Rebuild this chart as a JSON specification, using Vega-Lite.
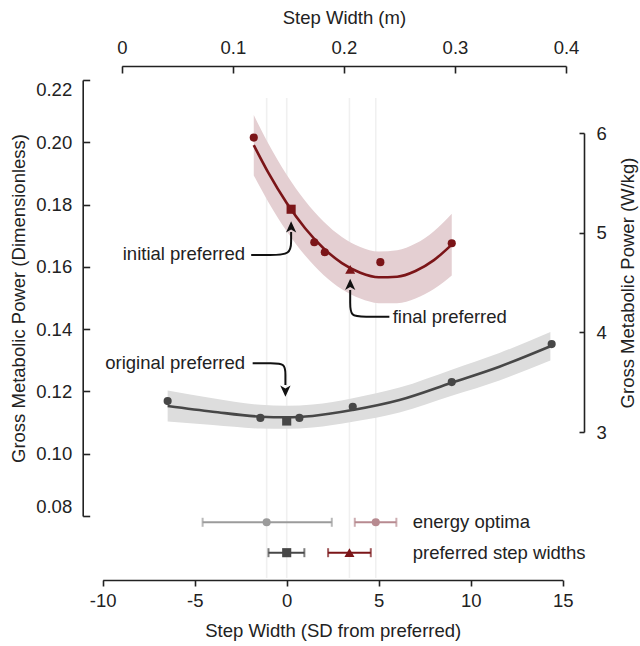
{
  "$schema": "https://vega.github.io/schema/vega-lite/v6.json",
  "width": 640,
  "height": 646,
  "autosize": "none",
  "padding": 0,
  "background": "white",
  "config": {
    "view": {"stroke": null},
    "font": "Liberation Sans",
    "axis": {
      "grid": false,
      "labelFont": "Liberation Sans",
      "titleFont": "Liberation Sans",
      "labelFontSize": 18.5,
      "titleFontSize": 18.5,
      "titleFontWeight": "normal",
      "labelColor": "#222222",
      "titleColor": "#222222",
      "domainColor": "#222222",
      "tickColor": "#222222",
      "domainWidth": 1.6,
      "tickWidth": 1.6,
      "labelOverlap": false
    }
  },
  "datasets": {
    "points": [
      {"sd": -1.79, "val": 0.2015, "cond": "red", "kind": "trial"},
      {"sd": 0.24, "val": 0.1785, "cond": "red", "kind": "initial"},
      {"sd": 1.5, "val": 0.1679, "cond": "red", "kind": "trial"},
      {"sd": 2.07, "val": 0.1647, "cond": "red", "kind": "trial"},
      {"sd": 3.45, "val": 0.1592, "cond": "red", "kind": "final"},
      {"sd": 5.09, "val": 0.1615, "cond": "red", "kind": "trial"},
      {"sd": 8.97, "val": 0.1676, "cond": "red", "kind": "trial"},
      {"sd": -6.47, "val": 0.1169, "cond": "dark", "kind": "trial"},
      {"sd": -1.43, "val": 0.1115, "cond": "dark", "kind": "trial"},
      {"sd": 0, "val": 0.1105, "cond": "dark", "kind": "initial"},
      {"sd": 0.69, "val": 0.1115, "cond": "dark", "kind": "trial"},
      {"sd": 3.59, "val": 0.1151, "cond": "dark", "kind": "trial"},
      {"sd": 8.97, "val": 0.1230, "cond": "dark", "kind": "trial"},
      {"sd": 14.4, "val": 0.1352, "cond": "dark", "kind": "trial"}
    ],
    "curves": [
      {"sd": -1.79, "val": 0.19906, "lo": 0.18936, "hi": 0.20876, "cond": "red"},
      {"sd": -1, "val": 0.19023, "lo": 0.18083, "hi": 0.19963, "cond": "red"},
      {"sd": 0, "val": 0.1805, "lo": 0.1714, "hi": 0.1896, "cond": "red"},
      {"sd": 1, "val": 0.17241, "lo": 0.16361, "hi": 0.18121, "cond": "red"},
      {"sd": 2, "val": 0.16599, "lo": 0.15739, "hi": 0.17459, "cond": "red"},
      {"sd": 3, "val": 0.16122, "lo": 0.15282, "hi": 0.16962, "cond": "red"},
      {"sd": 4, "val": 0.1581, "lo": 0.1498, "hi": 0.1664, "cond": "red"},
      {"sd": 5, "val": 0.15665, "lo": 0.14835, "hi": 0.16495, "cond": "red"},
      {"sd": 6, "val": 0.15684, "lo": 0.14834, "hi": 0.16534, "cond": "red"},
      {"sd": 7, "val": 0.15867, "lo": 0.14987, "hi": 0.16747, "cond": "red"},
      {"sd": 8, "val": 0.16217, "lo": 0.15287, "hi": 0.17147, "cond": "red"},
      {"sd": 8.97, "val": 0.16715, "lo": 0.15725, "hi": 0.17705, "cond": "red"},
      {"sd": -6.47, "val": 0.11532, "lo": 0.11032, "hi": 0.12032, "cond": "dark"},
      {"sd": -4.02, "val": 0.11349, "lo": 0.10919, "hi": 0.11779, "cond": "dark"},
      {"sd": -1.43, "val": 0.11189, "lo": 0.10809, "hi": 0.11569, "cond": "dark"},
      {"sd": 0, "val": 0.11169, "lo": 0.10799, "hi": 0.11539, "cond": "dark"},
      {"sd": 1.41, "val": 0.11211, "lo": 0.10841, "hi": 0.11581, "cond": "dark"},
      {"sd": 3.59, "val": 0.11404, "lo": 0.11024, "hi": 0.11784, "cond": "dark"},
      {"sd": 6.13, "val": 0.11725, "lo": 0.11325, "hi": 0.12125, "cond": "dark"},
      {"sd": 8.97, "val": 0.1228, "lo": 0.1186, "hi": 0.127, "cond": "dark"},
      {"sd": 11.56, "val": 0.12794, "lo": 0.12354, "hi": 0.13234, "cond": "dark"},
      {"sd": 14.33, "val": 0.1345, "lo": 0.1299, "hi": 0.1391, "cond": "dark"}
    ],
    "errbars": [
      {"sd": -1.09, "lo": -4.57, "hi": 2.45, "row": 0.07798, "cond": "eo_dark", "kind": "trial"},
      {"sd": 4.84, "lo": 3.7, "hi": 5.96, "row": 0.07798, "cond": "eo_red", "kind": "trial"},
      {"sd": 0, "lo": -0.99, "hi": 0.96, "row": 0.06822, "cond": "dark", "kind": "initial"},
      {"sd": 3.41, "lo": 2.25, "hi": 4.57, "row": 0.06822, "cond": "red", "kind": "final"}
    ],
    "arrows": [
      {"arrow": "initial", "i": 0, "sd": -1.93, "val": 0.16381},
      {"arrow": "initial", "i": 1, "sd": -0.95, "val": 0.16381},
      {"arrow": "initial", "i": 2, "sd": 0.24, "val": 0.16381},
      {"arrow": "initial", "i": 3, "sd": 0.24, "val": 0.1686},
      {"arrow": "initial", "i": 4, "sd": 0.24, "val": 0.17119},
      {"arrow": "final", "i": 0, "sd": 5.58, "val": 0.144},
      {"arrow": "final", "i": 1, "sd": 4.22, "val": 0.144},
      {"arrow": "final", "i": 2, "sd": 3.45, "val": 0.144},
      {"arrow": "final", "i": 3, "sd": 3.45, "val": 0.14871},
      {"arrow": "final", "i": 4, "sd": 3.45, "val": 0.15257},
      {"arrow": "original", "i": 0, "sd": -1.85, "val": 0.12903},
      {"arrow": "original", "i": 1, "sd": -0.83, "val": 0.12903},
      {"arrow": "original", "i": 2, "sd": -0.07, "val": 0.12903},
      {"arrow": "original", "i": 3, "sd": -0.07, "val": 0.12527},
      {"arrow": "original", "i": 4, "sd": -0.07, "val": 0.12206}
    ],
    "heads": [
      {"arrow": "initial", "dir": "up", "sd": 0.24, "val": 0.1728},
      {"arrow": "final", "dir": "up", "sd": 3.45, "val": 0.15433},
      {"arrow": "original", "dir": "down", "sd": -0.07, "val": 0.12014}
    ],
    "notesRight": [
      {"sd": -2.26, "val": 0.16413, "label": "initial preferred"},
      {"sd": -2.26, "val": 0.12903, "label": "original preferred"}
    ],
    "notesLeft": [
      {"sd": 5.76, "val": 0.144, "label": "final preferred"},
      {"sd": 6.85, "val": 0.07798, "label": "energy optima"},
      {"sd": 6.85, "val": 0.06822, "label": "preferred step widths"}
    ],
    "axes2": [
      {"m": 0, "w": 3},
      {"m": 0.4, "w": 6}
    ]
  },
  "layer": [
    {
      "layer": [
        {
          "data": {"name": "errbars"},
          "mark": {"type": "rule", "stroke": "#f0f0f0", "strokeWidth": 1.6},
          "encoding": {
            "x": {
              "field": "sd", "type": "quantitative",
              "scale": {"domain": [-10, 15], "range": [102.7, 562.7], "nice": false, "zero": false},
              "axis": {
                "orient": "bottom", "offset": -66,
                "values": [-10, -5, 0, 5, 10, 15],
                "labelExpr": "datum.value + ''",
                "labelFlush": false,
                "tickSize": 6, "labelPadding": 5,
                "title": "Step Width (SD from preferred)",
                "titlePadding": 12
              }
            },
            "y": {
              "datum": 0.2142, "type": "quantitative",
              "scale": {"domain": [0.08, 0.22], "range": [516, 80], "nice": false, "zero": false},
              "axis": {
                "orient": "left", "offset": -82.7,
                "values": [0.08, 0.1, 0.12, 0.14, 0.16, 0.18, 0.2, 0.22],
                "format": ".2f",
                "labelFlush": true,
                "tickSize": -7, "labelPadding": 18,
                "title": "Gross Metabolic Power (Dimensionless)",
                "titlePadding": 7
              }
            },
            "y2": {"datum": 0.0601}
          }
        },
        {
          "data": {"name": "curves"},
          "mark": {"type": "area", "interpolate": "monotone"},
          "encoding": {
            "x": {"field": "sd", "type": "quantitative"},
            "y": {"field": "lo", "type": "quantitative"},
            "y2": {"field": "hi"},
            "fill": {"field": "cond", "type": "nominal", "scale": {"domain": ["red", "dark"], "range": ["#e4cfd2", "#dddddd"]}, "legend": null}
          }
        },
        {
          "data": {"name": "curves"},
          "mark": {"type": "line", "interpolate": "monotone", "strokeWidth": 2.6},
          "encoding": {
            "x": {"field": "sd", "type": "quantitative"},
            "y": {"field": "val", "type": "quantitative"},
            "color": {"field": "cond", "type": "nominal", "scale": {"domain": ["red", "dark", "eo_red", "eo_dark"], "range": ["#7b1518", "#474747", "#b78a90", "#9b9b9b"]}, "legend": null}
          }
        },
        {
          "data": {"name": "points"},
          "mark": {"type": "point", "filled": true, "opacity": 1},
          "encoding": {
            "x": {"field": "sd", "type": "quantitative"},
            "y": {"field": "val", "type": "quantitative"},
            "color": {"field": "cond", "type": "nominal", "legend": null},
            "shape": {"field": "kind", "type": "nominal", "scale": {"domain": ["trial", "initial", "final"], "range": ["circle", "square", "triangle-up"]}, "legend": null},
            "size": {"field": "kind", "type": "ordinal", "scale": {"domain": ["trial", "initial", "final"], "range": [66, 100, 95]}, "legend": null}
          }
        },
        {
          "data": {"name": "errbars"},
          "mark": {"type": "rule", "strokeWidth": 2},
          "encoding": {
            "x": {"field": "lo", "type": "quantitative"},
            "x2": {"field": "hi"},
            "y": {"field": "row", "type": "quantitative"},
            "color": {"field": "cond", "type": "nominal", "legend": null}
          }
        },
        {
          "data": {"name": "errbars"},
          "mark": {"type": "tick", "orient": "vertical", "size": 9, "thickness": 2},
          "encoding": {
            "x": {"field": "lo", "type": "quantitative"},
            "y": {"field": "row", "type": "quantitative"},
            "color": {"field": "cond", "type": "nominal", "legend": null}
          }
        },
        {
          "data": {"name": "errbars"},
          "mark": {"type": "tick", "orient": "vertical", "size": 9, "thickness": 2},
          "encoding": {
            "x": {"field": "hi", "type": "quantitative"},
            "y": {"field": "row", "type": "quantitative"},
            "color": {"field": "cond", "type": "nominal", "legend": null}
          }
        },
        {
          "data": {"name": "errbars"},
          "mark": {"type": "point", "filled": true, "opacity": 1},
          "encoding": {
            "x": {"field": "sd", "type": "quantitative"},
            "y": {"field": "row", "type": "quantitative"},
            "color": {"field": "cond", "type": "nominal", "legend": null},
            "shape": {"field": "kind", "type": "nominal", "legend": null},
            "size": {"field": "kind", "type": "ordinal", "legend": null}
          }
        },
        {
          "data": {"name": "arrows"},
          "mark": {"type": "line", "interpolate": "basis", "stroke": "#111111", "strokeWidth": 2},
          "encoding": {
            "x": {"field": "sd", "type": "quantitative"},
            "y": {"field": "val", "type": "quantitative"},
            "detail": {"field": "arrow", "type": "nominal"},
            "order": {"field": "i", "type": "quantitative"}
          }
        },
        {
          "data": {"name": "heads"},
          "transform": [{"filter": "datum.dir === 'up'"}],
          "mark": {"type": "point", "filled": true, "opacity": 1, "color": "#111111", "shape": "M0,-1L0.9,0.95L0,0.45L-0.9,0.95Z", "size": 130},
          "encoding": {
            "x": {"field": "sd", "type": "quantitative"},
            "y": {"field": "val", "type": "quantitative"}
          }
        },
        {
          "data": {"name": "heads"},
          "transform": [{"filter": "datum.dir === 'down'"}],
          "mark": {"type": "point", "filled": true, "opacity": 1, "color": "#111111", "shape": "M0,1L0.9,-0.95L0,-0.45L-0.9,-0.95Z", "size": 130},
          "encoding": {
            "x": {"field": "sd", "type": "quantitative"},
            "y": {"field": "val", "type": "quantitative"}
          }
        },
        {
          "data": {"name": "notesRight"},
          "mark": {"type": "text", "align": "right", "baseline": "middle", "fontSize": 18.5, "color": "#222222", "font": "Liberation Sans"},
          "encoding": {
            "x": {"field": "sd", "type": "quantitative"},
            "y": {"field": "val", "type": "quantitative"},
            "text": {"field": "label"}
          }
        },
        {
          "data": {"name": "notesLeft"},
          "mark": {"type": "text", "align": "left", "baseline": "middle", "fontSize": 18.5, "color": "#222222", "font": "Liberation Sans"},
          "encoding": {
            "x": {"field": "sd", "type": "quantitative"},
            "y": {"field": "val", "type": "quantitative"},
            "text": {"field": "label"}
          }
        }
      ]
    },
    {
      "data": {"name": "axes2"},
      "mark": {"type": "point", "opacity": 0},
      "encoding": {
        "x": {
          "field": "m", "type": "quantitative",
          "scale": {"domain": [0, 0.4], "range": [121.8, 566], "nice": false, "zero": false},
          "axis": {
            "orient": "top", "offset": -66,
            "values": [0, 0.1, 0.2, 0.3, 0.4],
            "format": "~g",
            "labelFlush": false,
            "tickSize": -7, "labelPadding": 16,
            "title": "Step Width (m)",
            "titlePadding": 11
          }
        },
        "y": {
          "field": "w", "type": "quantitative",
          "scale": {"domain": [3, 6], "range": [432, 133], "nice": false, "zero": false},
          "axis": {
            "orient": "right", "offset": -56,
            "values": [3, 4, 5, 6],
            "format": "d",
            "labelFlush": false,
            "tickSize": -5, "labelPadding": 17,
            "title": "Gross Metabolic Power (W/kg)",
            "titleAngle": 270,
            "titleBaseline": "top",
            "titlePadding": 12
          }
        }
      }
    }
  ],
  "resolve": {"scale": {"x": "independent", "y": "independent"}}
}
